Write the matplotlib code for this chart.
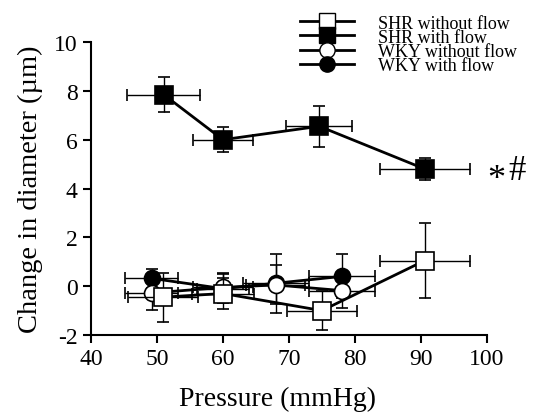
import matplotlib
matplotlib.use('Agg')
import matplotlib.pyplot as plt

plt.rcParams['font.family'] = ['Liberation Serif', 'DejaVu Serif']
plt.rcParams['axes.unicode_minus'] = False

# ── data ─────────────────────────────────────────────
shr_nf_x    = [50.9, 60.0, 75.0, 90.6]
shr_nf_y    = [-0.45, -0.30, -1.00, 1.05]
shr_nf_xerr = [5.3, 4.7, 5.3, 6.8]
shr_nf_yerr = [1.00, 0.62, 0.80, 1.55]

shr_f_x     = [51.0, 60.0, 74.6, 90.6]
shr_f_y     = [7.85, 6.00, 6.55, 4.80]
shr_f_xerr  = [5.5, 4.6, 5.0, 6.8]
shr_f_yerr  = [0.70, 0.50, 0.85, 0.45]

wky_nf_x    = [49.2, 60.0, 68.0, 78.0]
wky_nf_y    = [-0.28, -0.05, 0.05, -0.18]
wky_nf_xerr = [4.0, 4.5, 4.5, 5.0]
wky_nf_yerr = [0.70, 0.60, 0.80, 0.70]

wky_f_x     = [49.2, 60.0, 68.0, 78.0]
wky_f_y     = [0.32, -0.10, 0.12, 0.40]
wky_f_xerr  = [4.0, 4.0, 5.0, 5.0]
wky_f_yerr  = [0.38, 0.60, 1.20, 0.90]

fig = plt.figure(figsize=(5.47, 4.14), dpi=100)
ax = fig.add_axes([0.1664, 0.1884, 0.7236, 0.7076])

common = dict(color='black', ecolor='black', elinewidth=1.0, capsize=4,
              capthick=1.0, lw=2.0, markeredgecolor='black', markeredgewidth=1.2)

ax.errorbar(wky_f_x, wky_f_y, xerr=wky_f_xerr, yerr=wky_f_yerr,
            marker='o', ms=11.5, mfc='black', zorder=3, **common)
ax.errorbar(wky_nf_x, wky_nf_y, xerr=wky_nf_xerr, yerr=wky_nf_yerr,
            marker='o', ms=11.5, mfc='white', zorder=4, **common)
ax.errorbar(shr_nf_x, shr_nf_y, xerr=shr_nf_xerr, yerr=shr_nf_yerr,
            marker='s', ms=13, mfc='white', zorder=5, **common)
ax.errorbar(shr_f_x, shr_f_y, xerr=shr_f_xerr, yerr=shr_f_yerr,
            marker='s', ms=13, mfc='black', zorder=5, **common)

# significance marks
ax.text(100.0, shr_f_y[-1] - 0.45, '*', fontsize=26, va='center', ha='left',
        clip_on=False)
ax.text(103.3, shr_f_y[-1] - 0.05, '#', fontsize=25, va='center', ha='left',
        clip_on=False)

ax.set_xlim(40, 100)
ax.set_ylim(-2, 10)
ax.set_xticks(range(40, 101, 10))
ax.set_yticks(range(-2, 11, 2))
ax.spines[['top', 'right']].set_visible(False)
ax.spines[['left', 'bottom']].set_linewidth(1.5)
ax.tick_params(direction='out', length=6, width=1.5, labelsize=17)
ax.set_xlabel('Pressure (mmHg)', fontsize=20, labelpad=12)
ax.xaxis.label.set_x(0.472)
ax.set_ylabel('Change in diameter (µm)', fontsize=20.5, labelpad=8)

# legend
h = [
    plt.Line2D([], [], color='black', lw=2, marker='s', ms=11, mfc='white', mec='black'),
    plt.Line2D([], [], color='black', lw=2, marker='s', ms=11, mfc='black', mec='black'),
    plt.Line2D([], [], color='black', lw=2, marker='o', ms=11, mfc='white', mec='black'),
    plt.Line2D([], [], color='black', lw=2, marker='o', ms=11, mfc='black', mec='black'),
]
labels = ['SHR without flow', 'SHR with flow', 'WKY without flow', 'WKY with flow']
fig.legend(h, labels, loc='upper left', bbox_to_anchor=(0.535, 0.98),
           frameon=False, fontsize=13, handlelength=3.0, handletextpad=1.3,
           labelspacing=-0.15, borderaxespad=0)

fig.savefig('out.png', dpi=100, facecolor='white')
